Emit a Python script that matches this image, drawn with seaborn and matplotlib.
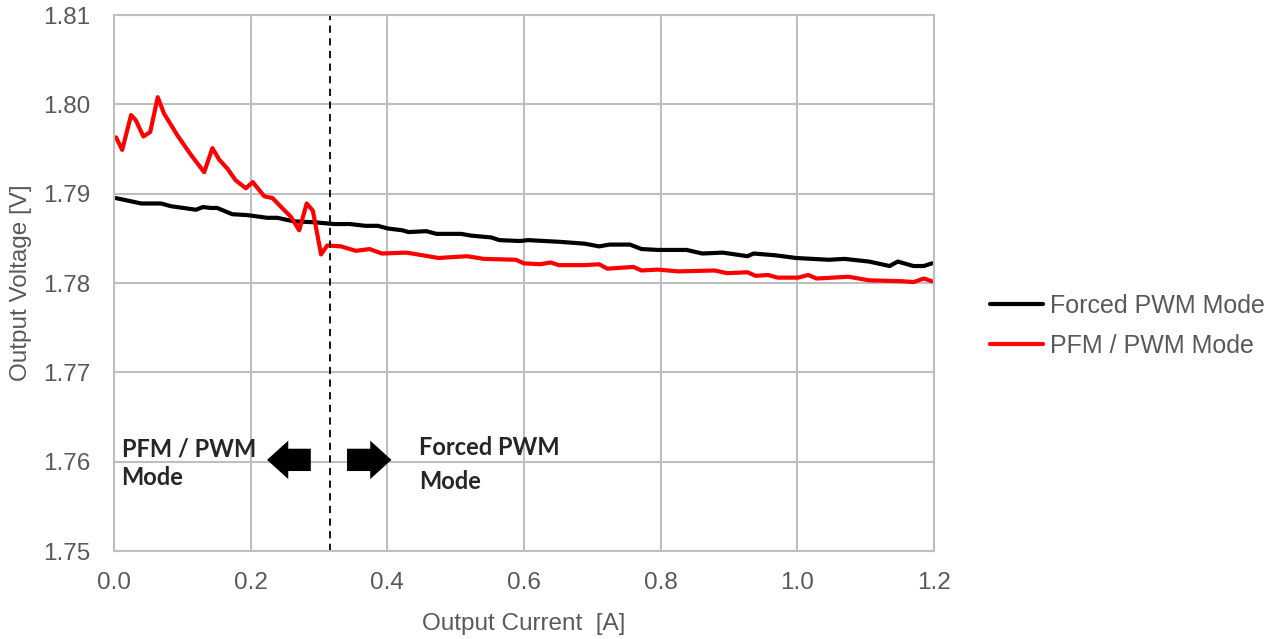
import numpy as np
import pandas as pd
import matplotlib
matplotlib.use("Agg")
import matplotlib.pyplot as plt
import seaborn as sns
from matplotlib.patches import FancyArrow

# ---- data ----
forced_x = [0.003, 0.040, 0.069, 0.083, 0.120, 0.130, 0.142, 0.151, 0.173, 0.195,
            0.224, 0.239, 0.263, 0.293, 0.322, 0.345, 0.368, 0.386, 0.401, 0.422,
            0.431, 0.457, 0.472, 0.508, 0.523, 0.552, 0.564, 0.594, 0.606, 0.654,
            0.689, 0.710, 0.725, 0.755, 0.772, 0.796, 0.838, 0.861, 0.891, 0.927,
            0.936, 0.968, 0.998, 1.046, 1.069, 1.105, 1.135, 1.147, 1.170, 1.185,
            1.197]
forced_y = [1.7895, 1.7889, 1.7889, 1.7886, 1.7882, 1.7885, 1.7884, 1.7884, 1.7877, 1.7876,
            1.7873, 1.7873, 1.7869, 1.7868, 1.7866, 1.7866, 1.7864, 1.7864, 1.7861, 1.7859,
            1.7857, 1.7858, 1.7855, 1.7855, 1.7853, 1.7851, 1.7848, 1.7847, 1.7848, 1.7846,
            1.7844, 1.7841, 1.7843, 1.7843, 1.7838, 1.7837, 1.7837, 1.7833, 1.7834, 1.7830,
            1.7833, 1.7831, 1.7828, 1.7826, 1.7827, 1.7824, 1.7819, 1.7824, 1.7819, 1.7819,
            1.7822]

pfm_x = [0.003, 0.012, 0.025, 0.032, 0.043, 0.053, 0.064, 0.073, 0.093, 0.113,
         0.124, 0.132, 0.144, 0.154, 0.166, 0.178, 0.193, 0.203, 0.220, 0.232,
         0.246, 0.259, 0.271, 0.282, 0.291, 0.303, 0.312, 0.332, 0.354, 0.374,
         0.392, 0.428, 0.452, 0.475, 0.517, 0.541, 0.588, 0.600, 0.624, 0.639,
         0.651, 0.689, 0.710, 0.722, 0.760, 0.772, 0.796, 0.826, 0.879, 0.897,
         0.927, 0.939, 0.957, 0.971, 1.001, 1.016, 1.028, 1.075, 1.105, 1.153,
         1.170, 1.185, 1.197]
pfm_y = [1.7963, 1.7949, 1.7988, 1.7982, 1.7964, 1.7969, 1.8008, 1.7990, 1.7965, 1.7943,
         1.7932, 1.7924, 1.7951, 1.7938, 1.7928, 1.7915, 1.7906, 1.7913, 1.7897, 1.7895,
         1.7884, 1.7874, 1.7859, 1.7889, 1.7881, 1.7832, 1.7842, 1.7841, 1.7836, 1.7838,
         1.7833, 1.7834, 1.7831, 1.7828, 1.7830, 1.7827, 1.7826, 1.7822, 1.7821, 1.7823,
         1.7820, 1.7820, 1.7821, 1.7816, 1.7818, 1.7814, 1.7815, 1.7813, 1.7814, 1.7811,
         1.7812, 1.7808, 1.7809, 1.7806, 1.7806, 1.7809, 1.7805, 1.7807, 1.7803, 1.7802,
         1.7801, 1.7805, 1.7802]

series_names = ["Forced PWM Mode", "PFM / PWM Mode"]
x_ticks = [0.0, 0.2, 0.4, 0.6, 0.8, 1.0, 1.2]
y_ticks = [1.75, 1.76, 1.77, 1.78, 1.79, 1.80, 1.81]
boundary_x = 0.3155

df = pd.concat([
    pd.DataFrame({"I": forced_x, "V": forced_y, "Mode": series_names[0]}),
    pd.DataFrame({"I": pfm_x, "V": pfm_y, "Mode": series_names[1]}),
])

sns.set_theme(style="white")
plt.rcParams["font.family"] = ["Liberation Sans", "DejaVu Sans"]

W, H = 1283, 639
fig = plt.figure(figsize=(W / 100, H / 100), dpi=100)
ax = fig.add_axes([114/W, 1 - 551/H, (934-114)/W, (551-15)/H])

sns.lineplot(data=df, x="I", y="V", hue="Mode", palette=["black", "#FF0000"],
             linewidth=3.0, ax=ax, sort=False, estimator=None, legend=True)

ax.set_xlim(0, 1.2)
ax.set_ylim(1.75, 1.81)
ax.set_xticks(x_ticks)
ax.set_xticklabels([f"{t:.1f}" for t in x_ticks])
ax.set_yticks(y_ticks)
ax.set_yticklabels([f"{t:.2f}" for t in y_ticks])
grid_c = "#BFBFBF"
ax.grid(True, color=grid_c, linewidth=1.5)
ax.set_axisbelow(True)
for s in ax.spines.values():
    s.set_color(grid_c)
    s.set_linewidth(1.5)
fs = 17.5
ax.tick_params(axis="y", colors="#595959", labelsize=fs, length=0, pad=17)
ax.tick_params(axis="x", colors="#595959", labelsize=fs, length=0, pad=15)
ax.set_xlabel("Output Current  [A]", color="#595959", fontsize=fs, labelpad=14)
ax.set_ylabel("Output Voltage [V]", color="#595959", fontsize=fs, labelpad=8)

ax.axvline(boundary_x, color="black", linestyle=(0, (4, 3)), linewidth=1.3)

leg = ax.legend(loc="center left", bbox_to_anchor=(990 / W, 1 - 326 / H),
                bbox_transform=fig.transFigure, frameon=False, borderpad=0,
                borderaxespad=0, fontsize=18, handlelength=2.1,
                handletextpad=0.3, labelspacing=0.65)
for t in leg.get_texts():
    t.set_color("#595959")
for h in leg.get_lines():
    h.set_linewidth(3.0)

ax.text(0.011, 1.7598, "PFM / PWM\nMode", fontsize=17, fontweight="bold",
        family=["Lato", "DejaVu Sans"], va="center", ha="left", linespacing=1.3)
ax.text(0.446, 1.7597, "Forced PWM\nMode", fontsize=17, fontweight="bold",
        family=["Lato", "DejaVu Sans"], va="center", ha="left", linespacing=1.55)

ax.add_patch(FancyArrow(0.288, 1.7602, -0.064, 0, width=0.0025, head_width=0.0043,
                        head_length=0.031, length_includes_head=True,
                        color="black", linewidth=0))
ax.add_patch(FancyArrow(0.341, 1.7602, 0.065, 0, width=0.0025, head_width=0.0043,
                        head_length=0.031, length_includes_head=True,
                        color="black", linewidth=0))

fig.savefig("out.png", dpi=100)
